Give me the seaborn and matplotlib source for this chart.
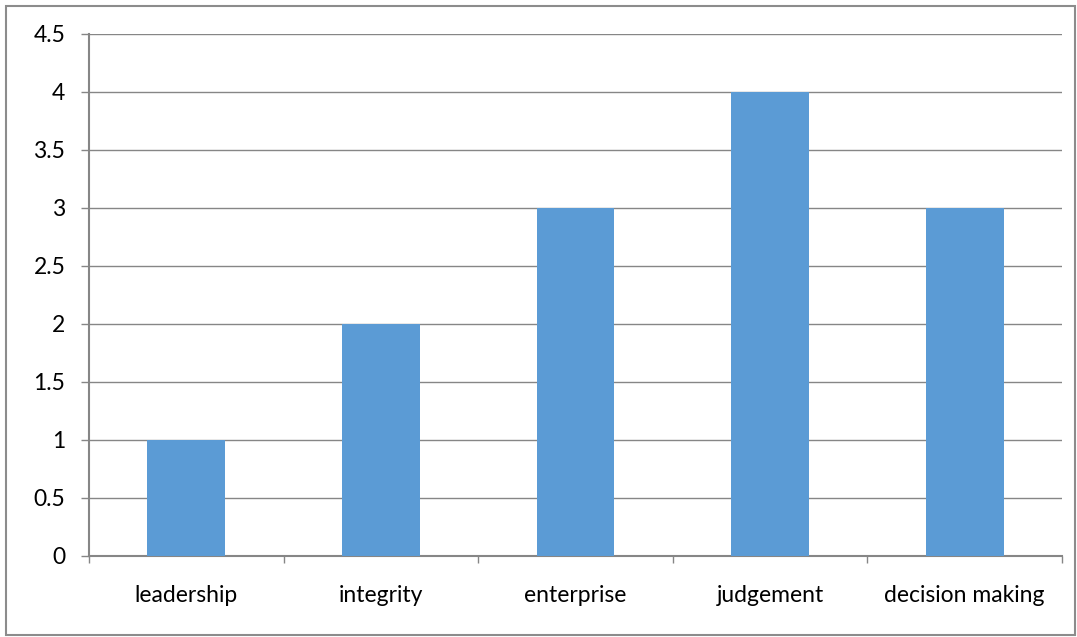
import matplotlib
matplotlib.use("Agg")
import matplotlib.pyplot as plt
import seaborn as sns
import pandas as pd
from matplotlib.patches import Rectangle

categories = ["leadership", "integrity", "enterprise", "judgement", "decision making"]
values = [1, 2, 3, 4, 3]
yticks = [0, 0.5, 1, 1.5, 2, 2.5, 3, 3.5, 4, 4.5]
ytick_labels = ["0", "0.5", "1", "1.5", "2", "2.5", "3", "3.5", "4", "4.5"]

sns.set_theme(style="white")
plt.rcParams['font.family'] = ['Lato', 'DejaVu Sans']

df = pd.DataFrame({"cat": categories, "val": values})

fig = plt.figure(figsize=(10.77, 6.37), dpi=100)
ax = fig.add_axes([89/1077, 1-556/637, (1062-89)/1077, (556-34)/637])

sns.barplot(data=df, x="cat", y="val", color="#5B9BD5", width=0.4, saturation=1,
            linewidth=0, edgecolor="none", ax=ax, zorder=3)

ax.set_ylim(0, 4.5)
ax.set_xlim(-0.5, len(categories) - 0.5)
ax.set_yticks(yticks)
ax.set_yticklabels(ytick_labels, fontsize=16.5, color="#000000")
ax.set_xticks(range(len(categories)))
ax.set_xticklabels(categories, fontsize=16.5, color="#000000")
ax.tick_params(axis='x', length=0, pad=21)
ax.tick_params(axis='y', length=6, color="#868686", width=1, pad=11, left=True)
# category boundary ticks
ax.set_xticks([i - 0.5 for i in range(len(categories) + 1)], minor=True)
ax.tick_params(axis='x', which='minor', length=5, color="#868686", width=1, bottom=True)

ax.set_xlabel("")
ax.set_ylabel("")
ax.grid(axis='y', color="#868686", linewidth=1, zorder=0)
ax.set_axisbelow(True)
for s in ["top", "right"]:
    ax.spines[s].set_visible(False)
for s in ["left", "bottom"]:
    ax.spines[s].set_color("#868686")
    ax.spines[s].set_linewidth(1.5)

fig.patches.append(Rectangle((6/1077, 2/637), 1069/1077, 629/637, transform=fig.transFigure,
                             fill=False, edgecolor="#8c8c8c", linewidth=1.5))

fig.savefig("out.png", dpi=100)
